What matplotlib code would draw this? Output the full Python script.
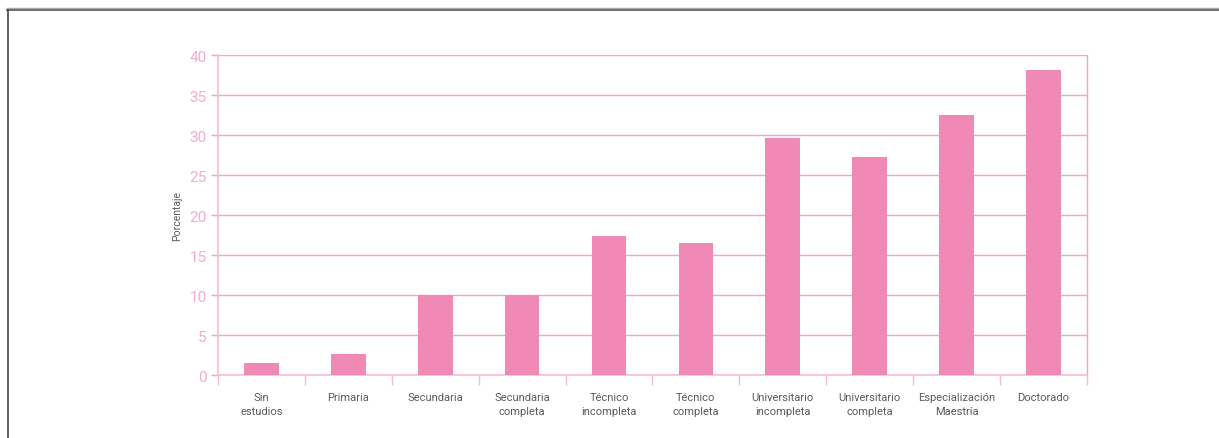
import numpy as np
import matplotlib
matplotlib.use("Agg")
import matplotlib.pyplot as plt
from matplotlib.lines import Line2D

# Datos
categorias = [
    "Sin\nestudios", "Primaria", "Secundaria", "Secundaria\ncompleta",
    "Técnico\nincompleta", "Técnico\ncompleta", "Universitario\nincompleta",
    "Universitario\ncompleta", "Especialización\nMaestría", "Doctorado",
]
porcentajes = [1.5, 2.6, 10.0, 10.0, 17.4, 16.5, 29.6, 27.3, 32.5, 38.1]
yticks = [0, 5, 10, 15, 20, 25, 30, 35, 40]

ROSA = "#F189B7"
ROSA_GRID = "#F4A6CA"
ROSA_EJE = "#F6BCD6"
ROSA_TXT = "#F6AACD"
GRIS_TXT = "#5A5A5A"

plt.rcParams["font.family"] = ["Roboto", "DejaVu Sans"]

fig = plt.figure(figsize=(12.19, 4.39), dpi=100)
ax = fig.add_axes([0.1788, 0.1435, 0.7129, 0.7289])

x = np.arange(len(categorias))
ax.bar(x, porcentajes, width=0.40, color=ROSA, zorder=3)

ax.set_xlim(-0.5, len(categorias) - 0.5)
ax.set_ylim(0, 40)
ax.set_yticks(yticks)
ax.set_yticklabels([str(v) for v in yticks])
ax.yaxis.grid(True, color=ROSA_GRID, linewidth=1.0, zorder=0)
ax.tick_params(axis="y", length=5, width=1, color=ROSA_GRID, labelcolor=ROSA_TXT,
               labelsize=11, pad=3)

# etiquetas centradas, marcas en los limites de cada categoria
ax.set_xticks(x)
ax.set_xticklabels(categorias, fontsize=8, color=GRIS_TXT, linespacing=1.55)
ax.tick_params(axis="x", which="major", length=0, pad=12)
ax.set_xticks(np.arange(-0.5, len(categorias), 1.0), minor=True)
ax.tick_params(axis="x", which="minor", length=7, width=1, color=ROSA_EJE)

for lado in ["left", "bottom"]:
    ax.spines[lado].set_color(ROSA_EJE)
    ax.spines[lado].set_linewidth(1.2)
ax.spines["top"].set_visible(False)
ax.spines["right"].set_color(ROSA_GRID)
ax.spines["right"].set_linewidth(1.0)

ax.set_ylabel("Porcentaje", fontsize=7.5, color=GRIS_TXT, labelpad=5)

# marco del recuadro
fig.add_artist(Line2D([7 / 1219, 1.0], [1 - 9 / 439, 1 - 9 / 439],
                      color="#AAAAAA", linewidth=1.0))
fig.add_artist(Line2D([7 / 1219, 1.0], [1 - 10.5 / 439, 1 - 10.5 / 439],
                      color="#555555", linewidth=1.2))
fig.add_artist(Line2D([7.5 / 1219, 7.5 / 1219], [0, 1 - 10.5 / 439],
                      color="#444444", linewidth=1.2))

fig.savefig("out.png", dpi=100)
